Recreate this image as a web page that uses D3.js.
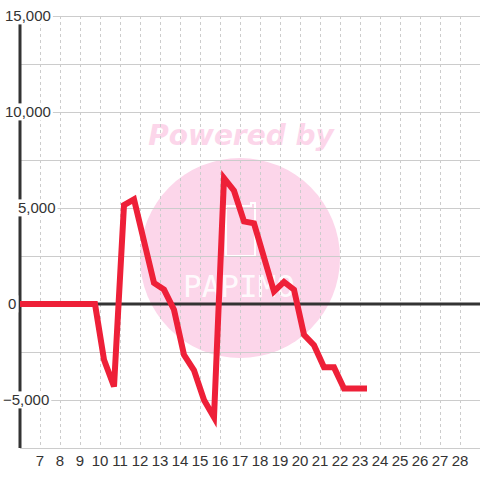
<!DOCTYPE html>
<html><head><meta charset="utf-8">
<script src="https://cdn.jsdelivr.net/npm/d3@7"></script>
<style>html,body{margin:0;padding:0;background:#fff;}svg{display:block;}</style>
</head><body>
<svg id="chart" width="480" height="480"></svg>
<script>
// ---- data ----
const xValues = [6, 9.75, 10.2, 10.7, 11.2, 11.7, 12.7, 13.2, 13.7, 14.2, 14.7, 15.2, 15.7, 16.2, 16.7, 17.2, 17.7, 18.7, 19.2, 19.7, 20.2, 20.7, 21.2, 21.7, 22.2, 23.35];
const yValues = [0, 0, -2900, -4300, 5150, 5450, 1100, 750, -300, -2650, -3450, -5000, -5900, 6550, 5900, 4300, 4200, 650, 1150, 750, -1600, -2150, -3300, -3300, -4400, -4400];
const xTickValues = [7,8,9,10,11,12,13,14,15,16,17,18,19,20,21,22,23,24,25,26,27,28];
const yGridValues = [-7500,-5000,-2500,0,2500,5000,7500,10000,12500,15000];
const yLabelValues = [-5000,0,5000,10000,15000];
// layout: left edge of each y label (as drawn by the original)
const yLabelLeft = [3, 8, 18, 5, 5];

const svg = d3.select("#chart");
const x = d3.scaleLinear().domain([6, 29]).range([20, 480]);
const y = d3.scaleLinear().domain([-7500, 15000]).range([448, 16]);
const fmt = d3.format(",");
const FONT = "'Liberation Sans', Arial, sans-serif";
const PINK = "#fcd6ea";

// watermark
const wm = svg.append("g");
wm.append("circle").attr("cx", 240).attr("cy", 258).attr("r", 100).attr("fill", PINK);
wm.append("text").attr("x", 241).attr("y", 145).attr("text-anchor", "middle")
  .attr("font-family", "'DejaVu Sans', sans-serif").attr("font-weight", "bold").attr("font-style", "italic")
  .attr("font-size", 28).attr("fill", PINK).text("Powered by");
wm.append("path")
  .attr("d", "M226,206 L226,256 L255,256 L255,203 L251,203 L251,206 Z")
  .attr("fill", "none").attr("stroke", "#fff").attr("stroke-width", 2);
wm.append("text").attr("x", 239).attr("y", 297).attr("text-anchor", "middle")
  .attr("font-family", "'DejaVu Sans Mono', monospace").attr("font-size", 31).attr("font-weight", "normal")
  .attr("fill", "#fff").attr("fill-opacity", 0.9).text("PAPIMO");

// horizontal grid
svg.append("g").selectAll("line").data(yGridValues).join("line")
  .attr("x1", 20).attr("x2", 480).attr("y1", d => y(d)).attr("y2", d => y(d))
  .attr("stroke", "#cccccc").attr("stroke-width", 1).attr("shape-rendering", "crispEdges");

// vertical dashed grid
svg.append("g").selectAll("line").data(xTickValues).join("line")
  .attr("x1", d => x(d)).attr("x2", d => x(d)).attr("y1", 16).attr("y2", 448)
  .attr("stroke", "#cccccc").attr("stroke-width", 1).attr("stroke-dasharray", "3,3")
  .attr("shape-rendering", "crispEdges");

// zero line
svg.append("line").attr("x1", 20).attr("x2", 480).attr("y1", y(0)).attr("y2", y(0))
  .attr("stroke", "#333333").attr("stroke-width", 3);

// y axis line
svg.append("line").attr("x1", 20).attr("x2", 20).attr("y1", 16).attr("y2", 448)
  .attr("stroke", "#333333").attr("stroke-width", 3);

// y labels with white background
const yl = svg.append("g").selectAll("g").data(yLabelValues).join("g");
yl.append("text")
  .attr("x", (d, i) => yLabelLeft[i]).attr("y", d => y(d)).attr("dy", "0.36em").attr("text-anchor", "start")
  .attr("font-family", FONT).attr("font-size", 15).attr("fill", "#333").text(d => fmt(d))
  .each(function() {
    const b = this.getBBox();
    d3.select(this.parentNode).insert("rect", "text")
      .attr("x", b.x - 2).attr("y", b.y).attr("width", b.width + 4).attr("height", b.height)
      .attr("fill", "#fff");
  });

// x labels
svg.append("g").selectAll("text").data(xTickValues).join("text")
  .attr("x", d => x(d)).attr("y", 466).attr("text-anchor", "middle")
  .attr("font-family", FONT).attr("font-size", 15).attr("fill", "#333").text(d => d);

// line
const pts = xValues.map((v, i) => [v, yValues[i]]);
svg.append("path").datum(pts)
  .attr("d", d3.line().x(d => x(d[0])).y(d => y(d[1])))
  .attr("fill", "none").attr("stroke", "#ee2038").attr("stroke-width", 6)
  .attr("stroke-linejoin", "miter").attr("stroke-linecap", "butt");
</script>
</body></html>
